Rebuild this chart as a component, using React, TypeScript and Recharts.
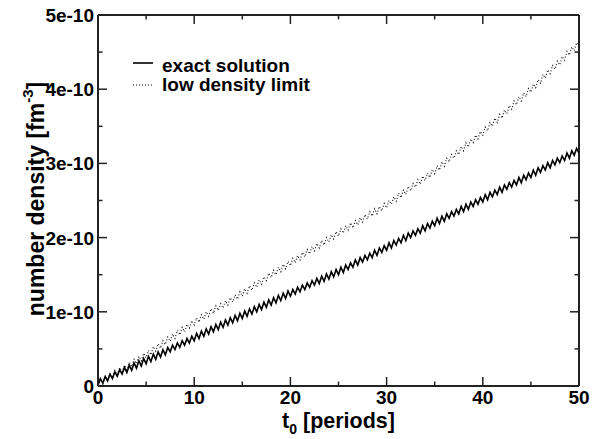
import React from 'react';
import { LineChart, Line, XAxis, YAxis, ReferenceLine, Legend } from 'recharts';

// time t0 in periods
const tValues = [
  0,
  0.25, 0.5, 0.75, 1, 1.25, 1.5, 1.75, 2, 2.25, 2.5, 2.75, 3, 3.25, 3.5, 3.75, 4, 4.25, 4.5, 4.75, 5,
  5.25, 5.5, 5.75, 6, 6.25, 6.5, 6.75, 7, 7.25, 7.5, 7.75, 8, 8.25, 8.5, 8.75, 9, 9.25, 9.5, 9.75, 10,
  10.25, 10.5, 10.75, 11, 11.25, 11.5, 11.75, 12, 12.25, 12.5, 12.75, 13, 13.25, 13.5, 13.75, 14, 14.25, 14.5, 14.75, 15,
  15.25, 15.5, 15.75, 16, 16.25, 16.5, 16.75, 17, 17.25, 17.5, 17.75, 18, 18.25, 18.5, 18.75, 19, 19.25, 19.5, 19.75, 20,
  20.25, 20.5, 20.75, 21, 21.25, 21.5, 21.75, 22, 22.25, 22.5, 22.75, 23, 23.25, 23.5, 23.75, 24, 24.25, 24.5, 24.75, 25,
  25.25, 25.5, 25.75, 26, 26.25, 26.5, 26.75, 27, 27.25, 27.5, 27.75, 28, 28.25, 28.5, 28.75, 29, 29.25, 29.5, 29.75, 30,
  30.25, 30.5, 30.75, 31, 31.25, 31.5, 31.75, 32, 32.25, 32.5, 32.75, 33, 33.25, 33.5, 33.75, 34, 34.25, 34.5, 34.75, 35,
  35.25, 35.5, 35.75, 36, 36.25, 36.5, 36.75, 37, 37.25, 37.5, 37.75, 38, 38.25, 38.5, 38.75, 39, 39.25, 39.5, 39.75, 40,
  40.25, 40.5, 40.75, 41, 41.25, 41.5, 41.75, 42, 42.25, 42.5, 42.75, 43, 43.25, 43.5, 43.75, 44, 44.25, 44.5, 44.75, 45,
  45.25, 45.5, 45.75, 46, 46.25, 46.5, 46.75, 47, 47.25, 47.5, 47.75, 48, 48.25, 48.5, 48.75, 49, 49.25, 49.5, 49.75, 50,
];

// number density, in units of 1e-10 fm^-3
const exactSolution = [
  0.01,
  0.10, 0.04, 0.13, 0.07, 0.16, 0.10, 0.19, 0.13, 0.22, 0.16, 0.25, 0.18, 0.28, 0.21, 0.31, 0.24, 0.34, 0.27, 0.37, 0.30,
  0.40, 0.33, 0.43, 0.36, 0.46, 0.39, 0.49, 0.42, 0.52, 0.46, 0.55, 0.49, 0.58, 0.52, 0.61, 0.55, 0.64, 0.58, 0.67, 0.61,
  0.71, 0.64, 0.74, 0.67, 0.77, 0.70, 0.80, 0.73, 0.83, 0.76, 0.86, 0.79, 0.89, 0.82, 0.92, 0.85, 0.95, 0.88, 0.98, 0.91,
  1.01, 0.94, 1.04, 0.97, 1.07, 1.00, 1.10, 1.03, 1.13, 1.06, 1.16, 1.09, 1.19, 1.12, 1.22, 1.15, 1.25, 1.18, 1.28, 1.21,
  1.30, 1.24, 1.33, 1.27, 1.36, 1.30, 1.39, 1.33, 1.42, 1.36, 1.45, 1.38, 1.48, 1.41, 1.51, 1.44, 1.54, 1.47, 1.57, 1.50,
  1.60, 1.53, 1.63, 1.57, 1.66, 1.60, 1.70, 1.63, 1.73, 1.67, 1.76, 1.70, 1.79, 1.73, 1.83, 1.76, 1.86, 1.80, 1.89, 1.83,
  1.93, 1.86, 1.96, 1.90, 1.99, 1.93, 2.03, 1.96, 2.06, 2.00, 2.09, 2.03, 2.12, 2.06, 2.16, 2.09, 2.19, 2.13, 2.22, 2.16,
  2.26, 2.19, 2.29, 2.22, 2.32, 2.26, 2.35, 2.29, 2.38, 2.32, 2.42, 2.35, 2.45, 2.38, 2.48, 2.42, 2.51, 2.45, 2.54, 2.48,
  2.58, 2.51, 2.61, 2.55, 2.64, 2.58, 2.68, 2.61, 2.71, 2.65, 2.74, 2.68, 2.77, 2.71, 2.81, 2.74, 2.84, 2.78, 2.87, 2.81,
  2.91, 2.84, 2.94, 2.88, 2.97, 2.91, 3.01, 2.94, 3.04, 2.98, 3.07, 3.01, 3.10, 3.04, 3.14, 3.07, 3.17, 3.11, 3.20, 3.14,
];

const lowDensityLimit = [
  0.00,
  0.09, 0.03, 0.13, 0.07, 0.17, 0.11, 0.21, 0.15, 0.25, 0.19, 0.28, 0.22, 0.32, 0.26, 0.36, 0.30, 0.40, 0.34, 0.44, 0.38,
  0.48, 0.42, 0.53, 0.47, 0.57, 0.51, 0.61, 0.56, 0.66, 0.60, 0.70, 0.64, 0.75, 0.69, 0.79, 0.73, 0.83, 0.78, 0.88, 0.82,
  0.92, 0.86, 0.96, 0.90, 1.00, 0.94, 1.04, 0.98, 1.08, 1.02, 1.11, 1.05, 1.15, 1.09, 1.19, 1.13, 1.23, 1.17, 1.27, 1.21,
  1.31, 1.25, 1.35, 1.29, 1.39, 1.33, 1.43, 1.37, 1.47, 1.42, 1.52, 1.46, 1.56, 1.50, 1.60, 1.54, 1.64, 1.58, 1.68, 1.62,
  1.72, 1.66, 1.76, 1.70, 1.80, 1.74, 1.84, 1.78, 1.88, 1.82, 1.92, 1.86, 1.96, 1.90, 2.00, 1.94, 2.04, 1.98, 2.08, 2.02,
  2.12, 2.06, 2.16, 2.10, 2.20, 2.13, 2.23, 2.17, 2.27, 2.21, 2.31, 2.25, 2.35, 2.29, 2.39, 2.32, 2.42, 2.36, 2.46, 2.40,
  2.50, 2.45, 2.55, 2.49, 2.60, 2.54, 2.64, 2.58, 2.69, 2.63, 2.73, 2.68, 2.78, 2.72, 2.83, 2.77, 2.87, 2.81, 2.92, 2.86,
  2.97, 2.91, 3.02, 2.96, 3.07, 3.02, 3.12, 3.07, 3.17, 3.12, 3.23, 3.17, 3.28, 3.22, 3.33, 3.28, 3.38, 3.33, 3.43, 3.38,
  3.49, 3.44, 3.55, 3.50, 3.61, 3.55, 3.66, 3.61, 3.72, 3.67, 3.78, 3.73, 3.84, 3.79, 3.90, 3.84, 3.95, 3.90, 4.01, 3.96,
  4.07, 4.02, 4.13, 4.08, 4.20, 4.15, 4.26, 4.21, 4.32, 4.27, 4.38, 4.33, 4.44, 4.39, 4.51, 4.46, 4.57, 4.52, 4.63, 4.58,
];

const seriesNames = ['exact solution', 'low density limit'];
const xTicks = [0, 5, 10, 15, 20, 25, 30, 35, 40, 45, 50];
const xTickLabels = ['0', '', '10', '', '20', '', '30', '', '40', '', '50'];
const yTicks = [0, 0.5, 1, 1.5, 2, 2.5, 3, 3.5, 4, 4.5, 5];
const yTickLabels = ['0', '', '1e-10', '', '2e-10', '', '3e-10', '', '4e-10', '', '5e-10'];

const data = tValues.map((t, i) => ({ t, exact: exactSolution[i], low: lowDensityLimit[i] }));

const W = 598;
const H = 439;
const M = { top: 15, right: 19, bottom: 0, left: 0 };
const Y_AXIS_W = 98;
const X_AXIS_H = 53;
const PLOT_TOP = M.top;
const PLOT_LEFT = M.left + Y_AXIS_W;
const PLOT_RIGHT = W - M.right;
const AXIS_COLOR = '#222';
const FONT = '"Liberation Sans", Arial, Helvetica, sans-serif';
const MAJOR = 9;
const MINOR = 4.5;

const XTick = (props: any) => {
  const { x, y, payload } = props;
  const idx = xTicks.indexOf(payload.value);
  const label = xTickLabels[idx] || '';
  const len = label ? MAJOR : MINOR;
  return (
    <g>
      <line x1={x} y1={y} x2={x} y2={y - len} stroke={AXIS_COLOR} strokeWidth={1.5} />
      <line x1={x} y1={PLOT_TOP} x2={x} y2={PLOT_TOP + len} stroke={AXIS_COLOR} strokeWidth={1.5} />
      {label && (
        <text x={x} y={y + 18} textAnchor="middle" fontFamily={FONT} fontWeight="bold" fontSize={19} fill="#000">
          {label}
        </text>
      )}
    </g>
  );
};

const YTick = (props: any) => {
  const { x, y, payload } = props;
  const idx = yTicks.indexOf(payload.value);
  const label = yTickLabels[idx] || '';
  const len = label ? MAJOR : MINOR;
  return (
    <g>
      <line x1={x} y1={y} x2={x + len} y2={y} stroke={AXIS_COLOR} strokeWidth={1.5} />
      <line x1={PLOT_RIGHT} y1={y} x2={PLOT_RIGHT - len} y2={y} stroke={AXIS_COLOR} strokeWidth={1.5} />
      {label && (
        <text x={x - 4} y={y + 7} textAnchor="end" fontFamily={FONT} fontWeight="bold" fontSize={19} fill="#000">
          {label}
        </text>
      )}
    </g>
  );
};

const XTitle = () => (
  <text x={(PLOT_LEFT + PLOT_RIGHT) / 2} y={428} textAnchor="middle" fontFamily={FONT} fontWeight="bold" fontSize={21.5} fill="#000">
    t
    <tspan fontSize={14} dy={6}>0</tspan>
    <tspan dy={-6}> [periods]</tspan>
  </text>
);

const YTitle = () => (
  <text
    transform={`translate(44, 199) rotate(-90)`}
    x={0}
    y={0}
    textAnchor="middle"
    fontFamily={FONT}
    fontWeight="bold"
    fontSize={23}
    fill="#000"
  >
    number density [fm
    <tspan fontSize={15} dy={-11}>-3</tspan>
    <tspan dy={11}>]</tspan>
  </text>
);

const LegendContent = () => (
  <svg width={340} height={100} style={{ display: 'block' }}>
    <line x1={133} y1={63} x2={153} y2={63} stroke="#000" strokeWidth={1.6} />
    <text x={162} y={71.5} fontFamily={FONT} fontWeight="bold" fontSize={19} fill="#000">
      {seriesNames[0]}
    </text>
    <line x1={133} y1={85} x2={153} y2={85} stroke="#000" strokeWidth={1} strokeDasharray="1 2" />
    <text x={162} y={91} fontFamily={FONT} fontWeight="bold" fontSize={19} fill="#000">
      {seriesNames[1]}
    </text>
  </svg>
);

export default function App() {
  return (
    <div style={{ position: 'absolute', left: 0, top: 0, width: W, height: H, background: '#fff' }}>
      <LineChart width={W} height={H} data={data} margin={M}>
        <XAxis
          dataKey="t"
          type="number"
          domain={[0, 50]}
          ticks={xTicks}
          interval={0}
          tick={<XTick />}
          tickLine={false}
          tickSize={0}
          tickMargin={0}
          height={X_AXIS_H}
          axisLine={{ stroke: AXIS_COLOR, strokeWidth: 2 }}
          label={{ content: () => <XTitle /> }}
          allowDataOverflow
        />
        <YAxis
          type="number"
          domain={[0, 5]}
          ticks={yTicks}
          interval={0}
          tick={<YTick />}
          tickLine={false}
          tickSize={0}
          tickMargin={0}
          width={Y_AXIS_W}
          axisLine={{ stroke: AXIS_COLOR, strokeWidth: 2 }}
          label={{ content: () => <YTitle /> }}
          allowDataOverflow
        />
        <ReferenceLine y={5} stroke={AXIS_COLOR} strokeWidth={2} />
        <ReferenceLine x={50} stroke={AXIS_COLOR} strokeWidth={2} />
        <Legend
          layout="horizontal"
          verticalAlign="middle"
          align="center"
          wrapperStyle={{ position: 'absolute', left: 0, top: 0, width: 340, height: 100 }}
          content={() => <LegendContent />}
        />
        <Line
          type="linear"
          dataKey="low"
          name={seriesNames[1]}
          stroke="#111"
          strokeWidth={1.1}
          strokeDasharray="1 2"
          dot={false}
          isAnimationActive={false}
        />
        <Line
          type="linear"
          dataKey="exact"
          name={seriesNames[0]}
          stroke="#000"
          strokeWidth={1.6}
          dot={false}
          isAnimationActive={false}
        />
      </LineChart>
    </div>
  );
}
